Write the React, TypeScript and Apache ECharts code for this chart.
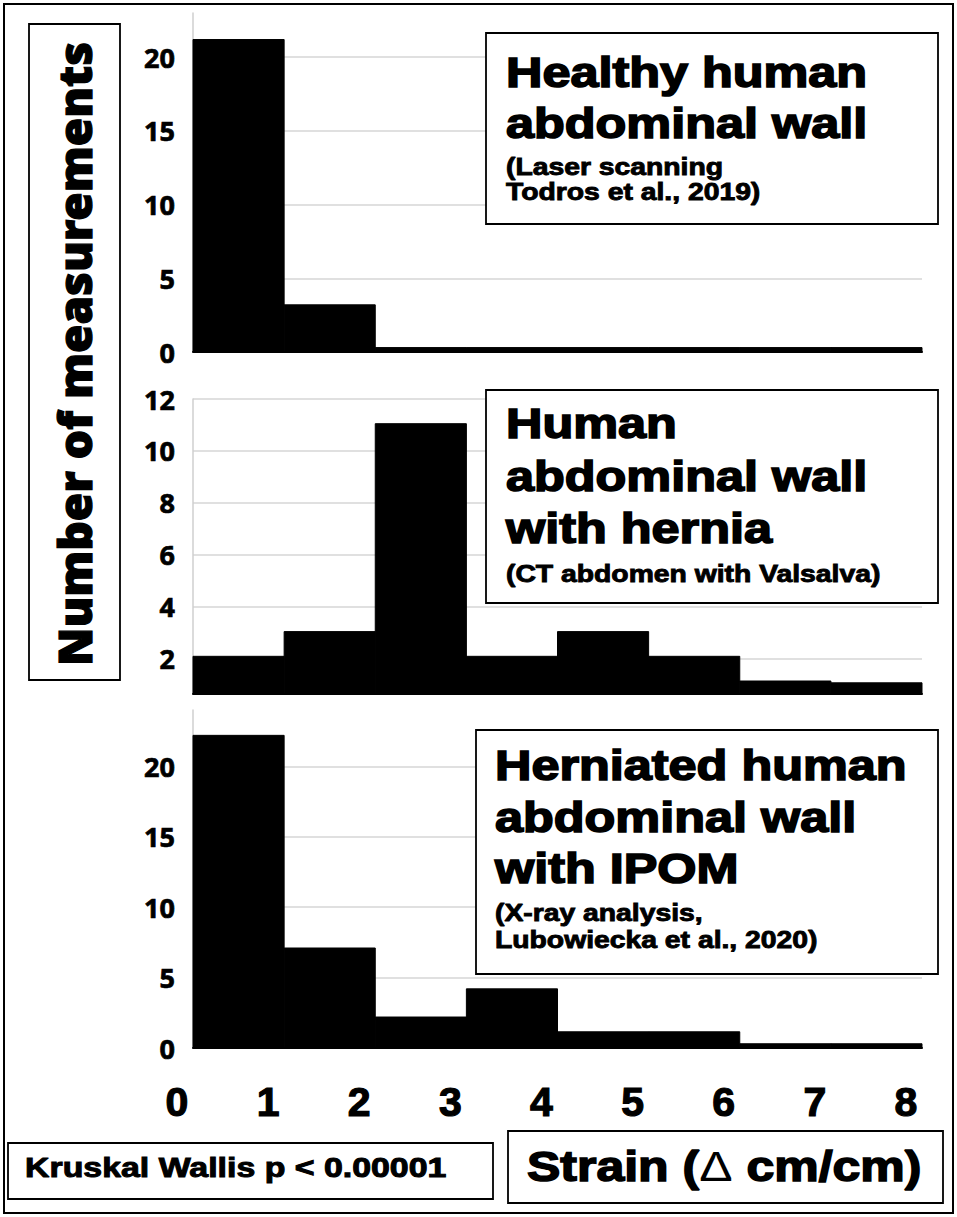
import React, { useEffect, useRef } from 'react';
import * as echarts from 'echarts';

// ---- data ----
const binStarts = [0, 1, 2, 3, 4, 5, 6, 7];
const binWidth = 1;
const xTickValues = [0, 1, 2, 3, 4, 5, 6, 7, 8];

const healthyCounts = [21.2, 3.2, 0.3, 0.3, 0.3, 0.3, 0.3, 0.3];
const herniaCounts = [2.1, 3.05, 11.05, 2.1, 3.05, 2.1, 1.15, 1.08];
const ipomCounts = [22.2, 7.1, 2.2, 4.2, 1.15, 1.15, 0.3, 0.3];

const healthyTitle = ['Healthy human', 'abdominal wall'];
const healthySource = ['(Laser scanning', 'Todros et al., 2019)'];
const herniaTitle = ['Human', 'abdominal wall', 'with hernia'];
const herniaSource = ['(CT abdomen with Valsalva)'];
const ipomTitle = ['Herniated human', 'abdominal wall', 'with IPOM'];
const ipomSource = ['(X-ray analysis,', 'Lubowiecka et al., 2020)'];

const yAxisTitle = 'Number of measurements';
const statText = 'Kruskal Wallis p < 0.00001';
const xAxisTitle = 'Strain ({d|\u0394} cm/cm)';

const FONT_ARIAL = 'Liberation Sans, Arial, sans-serif';
const FONT_NOTO = 'Noto Sans, sans-serif';

function histSeries(idx: number, counts: number[]) {
  return {
    type: 'custom',
    xAxisIndex: idx,
    yAxisIndex: idx,
    z: 3,
    data: counts.map((c, i) => [binStarts[i], binStarts[i] + binWidth, c]),
    encode: { x: [0, 1], y: 2 },
    renderItem: (params: any, api: any) => {
      const tl = api.coord([api.value(0), api.value(2)]);
      const tr = api.coord([api.value(1), api.value(2)]);
      const cs = params.coordSys;
      const bottom = cs.y + cs.height;
      return {
        type: 'rect',
        shape: { x: tl[0], y: tl[1], width: tr[0] - tl[0], height: bottom - tl[1] },
        style: { fill: '#000', stroke: '#000', lineWidth: 1 },
      };
    },
  };
}

function yAxisCfg(idx: number, min: number, max: number, step: number, interval?: number) {
  const cfg: any = {
    type: 'value',
    gridIndex: idx,
    min,
    max,
    axisLine: { show: true, lineStyle: { color: '#cfcfcf', width: 1.5 } },
    axisTick: { show: false },
    splitLine: { show: true, showMinLine: false, showMaxLine: idx === 1, lineStyle: { color: '#d6d6d6', width: 1.5 } },
    axisLabel: {
      margin: 18,
      color: '#000',
      fontFamily: FONT_NOTO,
      fontWeight: 'bold',
      fontSize: 27,
      textBorderColor: '#000',
      textBorderWidth: 0.7,
      formatter: (v: number) => (Math.abs(v - Math.round(v)) < 1e-6 && Math.round(v) % step === 0 ? String(Math.round(v)) : ''),
    },
  };
  if (interval !== undefined) cfg.interval = interval;
  return cfg;
}

function xAxisCfg(idx: number, showLabels: boolean) {
  return {
    type: 'value',
    gridIndex: idx,
    min: 0,
    max: 8,
    interval: 1,
    axisLine: { show: true, onZero: false, lineStyle: { color: '#000', width: 2 } },
    axisTick: { show: false },
    splitLine: { show: false },
    axisLabel: showLabels
      ? {
          show: true,
          margin: 33,
          color: '#000',
          fontFamily: FONT_ARIAL,
          fontWeight: 'bold',
          fontSize: 41,
          textBorderColor: '#000',
          textBorderWidth: 1.2,
          padding: [0, 32, 0, 0],
          formatter: (v: number) => (xTickValues.includes(v) ? String(v) : ''),
        }
      : { show: false },
  };
}

function txt(text: string, x: number, y: number, size: number, sx: number, sw: number, extra: any = {}) {
  return {
    type: 'text',
    x,
    y,
    scaleX: sx,
    z: 20,
    style: {
      text,
      fontSize: size,
      fontFamily: FONT_ARIAL,
      fontWeight: 'bold',
      fill: '#000',
      stroke: '#000',
      lineWidth: sw,
      align: 'left',
      verticalAlign: 'middle',
      textAlign: 'left',
      textVerticalAlign: 'middle',
      ...extra,
    },
  };
}

function box(x: number, y: number, w: number, h: number) {
  return {
    type: 'rect',
    z: 15,
    shape: { x, y, width: w, height: h },
    style: { fill: '#fff', stroke: '#000', lineWidth: 1.8 },
  };
}

function legendBlock(
  bx: number, by: number, bw: number, bh: number,
  tx: number, titleLines: string[], titleY: number, titleStep: number,
  srcLines: string[], srcY: number, srcStep: number
) {
  const els: any[] = [box(bx, by, bw, bh)];
  titleLines.forEach((t, i) => els.push(txt(t, tx, titleY + i * titleStep, 42, 1.2, 1.6)));
  srcLines.forEach((t, i) => els.push(txt(t, tx, srcY + i * srcStep, 24, 1.18, 0.9)));
  return els;
}

export default function App() {
  const ref = useRef<HTMLDivElement>(null);
  useEffect(() => {
    if (!ref.current) return;
    const chart = echarts.init(ref.current, undefined, { renderer: 'svg' });
    const gridLeft = 193;
    const gridWidth = 729;
    const option: any = {
      animation: false,
      backgroundColor: '#fff',
      grid: [
        { left: gridLeft, width: gridWidth, top: 13, height: 339 },
        { left: gridLeft, width: gridWidth, top: 399, height: 295 },
        { left: gridLeft, width: gridWidth, top: 710, height: 338 },
      ],
      xAxis: [xAxisCfg(0, false), xAxisCfg(1, false), xAxisCfg(2, true)],
      yAxis: [yAxisCfg(0, 0, 23, 5, 5), yAxisCfg(1, 0.65, 12, 2), yAxisCfg(2, 0, 24, 5, 5)],
      series: [histSeries(0, healthyCounts), histSeries(1, herniaCounts), histSeries(2, ipomCounts)],
      graphic: [
        {
          type: 'rect',
          z: 1,
          shape: { x: 4, y: 4, width: 949, height: 1209 },
          style: { fill: 'none', stroke: '#000', lineWidth: 2 },
        },
        box(29, 24, 91, 656),
        {
          type: 'text',
          x: 74,
          y: 354,
          rotation: Math.PI / 2,
          z: 20,
          style: {
            text: yAxisTitle,
            fontSize: 46,
            fontFamily: FONT_NOTO,
            fontWeight: 900,
            fill: '#000',
            stroke: '#000',
            lineWidth: 1.2,
            align: 'center',
            verticalAlign: 'middle',
            textAlign: 'center',
            textVerticalAlign: 'middle',
          },
        },
        ...legendBlock(486, 33, 452, 191, 506, healthyTitle, 73, 51, healthySource, 167, 25),
        ...legendBlock(486, 390, 452, 213, 506, herniaTitle, 424, 52.5, herniaSource, 574, 25),
        ...legendBlock(476, 730, 462, 244, 495, ipomTitle, 766, 51.5, ipomSource, 913, 27),
        box(8, 1143, 485, 56),
        txt(statText, 25, 1168, 28, 1.21, 1),
        box(508, 1131, 435, 72),
        txt(xAxisTitle, 527, 1166, 42, 1.19, 1.5, {
          rich: { d: { fontSize: 42, fontFamily: FONT_ARIAL, fontWeight: 'normal', fill: '#000', stroke: 'none', lineWidth: 0 } },
        }),
      ],
    };
    chart.setOption(option);
    return () => chart.dispose();
  }, []);
  return (
    <div
      ref={ref}
      style={{ position: 'absolute', left: 0, top: 0, width: 957, height: 1217, background: '#fff' }}
    />
  );
}
